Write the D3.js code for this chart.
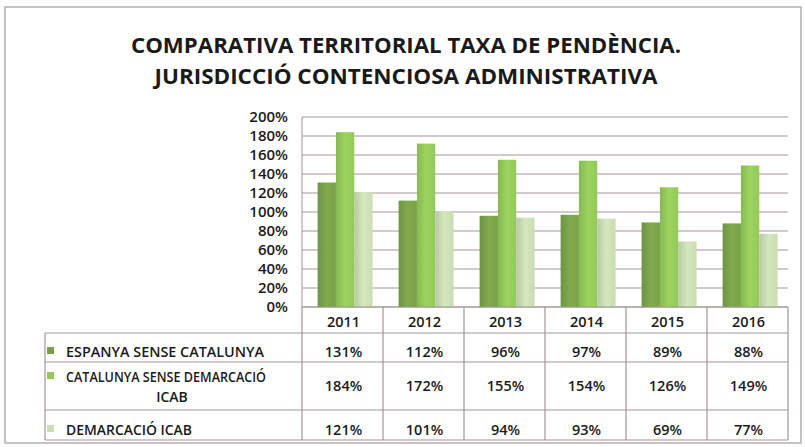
<!DOCTYPE html>
<html>
<head>
<meta charset="utf-8">
<script src="https://cdn.jsdelivr.net/npm/d3@7"></script>
<style>
  body { margin: 0; background: #fff; }
  text { font-family: "Open Sans", "Noto Sans", sans-serif; fill: #1a1a1a; }
</style>
</head>
<body>
<div id="chart"></div>
<script>
// chart data
var years = ["2011", "2012", "2013", "2014", "2015", "2016"];
var seriesNames = ["ESPANYA SENSE CATALUNYA", "CATALUNYA SENSE DEMARCACIÓ ICAB", "DEMARCACIÓ ICAB"];
var espanya = [131, 112, 96, 97, 89, 88];
var catalunya = [184, 172, 155, 154, 126, 149];
var icab = [121, 101, 94, 93, 69, 77];
var yTicks = [0, 20, 40, 60, 80, 100, 120, 140, 160, 180, 200];
var titleLines = ["COMPARATIVA TERRITORIAL TAXA DE PENDÈNCIA.", "JURISDICCIÓ CONTENCIOSA ADMINISTRATIVA"];

function init(){
    var w = 805;
    var h = 447;
    var allSeries = [espanya, catalunya, icab];
    var colors = ["#78a249", "#94c95a", "#c9dcb2"];
    var gridColor = "#a39694";

    // plot area
    var left = 302, right = 788, top = 117, bottom = 307;

    var svg = d3.select("#chart").append("svg")
        .attr("width", w)
        .attr("height", h);

    // outer frame
    svg.append("rect")
        .attr("x", 5).attr("y", 7)
        .attr("width", 796).attr("height", 436)
        .attr("fill", "none")
        .attr("stroke", "#b4aeac")
        .attr("stroke-width", 1.5);

    // title
    var titleLen = [550, 503];
    svg.selectAll(".title")
        .data(titleLines)
        .enter()
        .append("text")
        .attr("class", "title")
        .attr("x", 406)
        .attr("y", function(d, i){ return 53 + i * 31; })
        .attr("text-anchor", "middle")
        .attr("font-size", 22)
        .attr("font-weight", "bold")
        .attr("textLength", function(d, i){ return titleLen[i]; })
        .attr("lengthAdjust", "spacingAndGlyphs")
        .text(function(d){ return d; });

    var xScale = d3.scaleBand()
        .domain(years)
        .range([left, right]);

    var xInner = d3.scaleBand()
        .domain(d3.range(allSeries.length))
        .range([0, xScale.bandwidth()])
        .paddingInner(0)
        .paddingOuter(0.71)
        .align(0.6);

    var yScale = d3.scaleLinear()
        .domain([0, 200])
        .range([bottom, top]);

    // gradients per series
    var defs = svg.append("defs");
    colors.forEach(function(c, i){
        var g = defs.append("linearGradient")
            .attr("id", "grad" + i)
            .attr("x1", "0%").attr("x2", "100%")
            .attr("y1", "0%").attr("y2", "0%");
        g.append("stop").attr("offset", "0%").attr("stop-color", d3.color(c).darker(0.25));
        g.append("stop").attr("offset", "50%").attr("stop-color", d3.color(c).brighter(0.15));
        g.append("stop").attr("offset", "100%").attr("stop-color", c);
    });

    // gridlines
    svg.append("g")
        .selectAll("line")
        .data(yTicks)
        .enter()
        .append("line")
        .attr("x1", left).attr("x2", right)
        .attr("y1", function(d){ return yScale(d); })
        .attr("y2", function(d){ return yScale(d); })
        .attr("stroke", gridColor)
        .attr("stroke-width", 1.2);

    // left edge of plot
    svg.append("line")
        .attr("x1", left).attr("x2", left)
        .attr("y1", top).attr("y2", bottom)
        .attr("stroke", gridColor);

    // y tick labels
    svg.append("g")
        .selectAll("text")
        .data(yTicks)
        .enter()
        .append("text")
        .attr("x", 288)
        .attr("y", function(d){ return yScale(d) + 5; })
        .attr("text-anchor", "end")
        .attr("font-size", 15)
        .attr("font-weight", 600)
        .text(function(d){ return d + "%"; });

    // bars
    allSeries.forEach(function(s, si){
        svg.append("g")
            .selectAll("rect")
            .data(s)
            .enter()
            .append("rect")
            .attr("x", function(d, i){ return xScale(years[i]) + xInner(si); })
            .attr("y", function(d){ return yScale(d); })
            .attr("width", xInner.bandwidth())
            .attr("height", function(d){ return bottom - yScale(d); })
            .attr("fill", "url(#grad" + si + ")");
    });

    // data table
    var tableLeft = 45;
    var rowTops = [bottom, 333, 362, 410, 440];
    var rowBase = [357, 382, 435];
    var tg = svg.append("g");

    // horizontal lines
    rowTops.forEach(function(y, i){
        tg.append("line")
            .attr("x1", i === 0 ? left : tableLeft)
            .attr("x2", right)
            .attr("y1", y).attr("y2", y)
            .attr("stroke", gridColor)
            .attr("stroke-width", 1.2);
    });

    // vertical lines
    tg.append("line")
        .attr("x1", tableLeft).attr("x2", tableLeft)
        .attr("y1", rowTops[1]).attr("y2", rowTops[4])
        .attr("stroke", gridColor).attr("stroke-width", 1.2);
    years.forEach(function(y){
        tg.append("line")
            .attr("x1", xScale(y)).attr("x2", xScale(y))
            .attr("y1", bottom).attr("y2", rowTops[4])
            .attr("stroke", gridColor).attr("stroke-width", 1.2);
    });
    tg.append("line")
        .attr("x1", right).attr("x2", right)
        .attr("y1", bottom).attr("y2", rowTops[4])
        .attr("stroke", gridColor).attr("stroke-width", 1.2);

    // year header
    tg.selectAll(".yr")
        .data(years)
        .enter()
        .append("text")
        .attr("x", function(d){ return xScale(d) + xScale.bandwidth() / 2 + 1; })
        .attr("y", 327)
        .attr("text-anchor", "middle")
        .attr("font-size", 14.5)
        .attr("font-weight", 600)
        .text(function(d){ return d; });

    // rows
    allSeries.forEach(function(s, si){
        var y0 = rowTops[si + 1], y1 = rowTops[si + 2];
        var mid = (y0 + y1) / 2;

        // legend key
        tg.append("rect")
            .attr("x", 47).attr("y", rowBase[si] - 10)
            .attr("width", 7).attr("height", 7)
            .attr("fill", colors[si]);

        if (si === 1) {
            tg.append("text")
                .attr("x", 66).attr("y", rowBase[si])
                .attr("font-size", 14)
                .attr("font-weight", 600)
                .attr("textLength", 200)
                .attr("lengthAdjust", "spacingAndGlyphs")
                .text("CATALUNYA SENSE DEMARCACIÓ");
            tg.append("text")
                .attr("x", 172).attr("y", rowBase[si] + 20)
                .attr("text-anchor", "middle")
                .attr("font-size", 14)
                .attr("font-weight", 600)
                .text("ICAB");
        } else {
            tg.append("text")
                .attr("x", 66).attr("y", rowBase[si])
                .attr("font-size", 14.5)
                .attr("font-weight", 600)
                .attr("textLength", si === 0 ? 198 : 126)
                .attr("lengthAdjust", "spacingAndGlyphs")
                .text(seriesNames[si]);
        }

        tg.selectAll(".v" + si)
            .data(s)
            .enter()
            .append("text")
            .attr("x", function(d, i){ return xScale(years[i]) + xScale.bandwidth() / 2 + 1; })
            .attr("y", si === 1 ? mid + 5 : rowBase[si])
            .attr("text-anchor", "middle")
            .attr("font-size", 14.5)
            .attr("font-weight", 600)
            .text(function(d){ return d + "%"; });
    });
}

window.onload = init;
</script>
</body>
</html>
